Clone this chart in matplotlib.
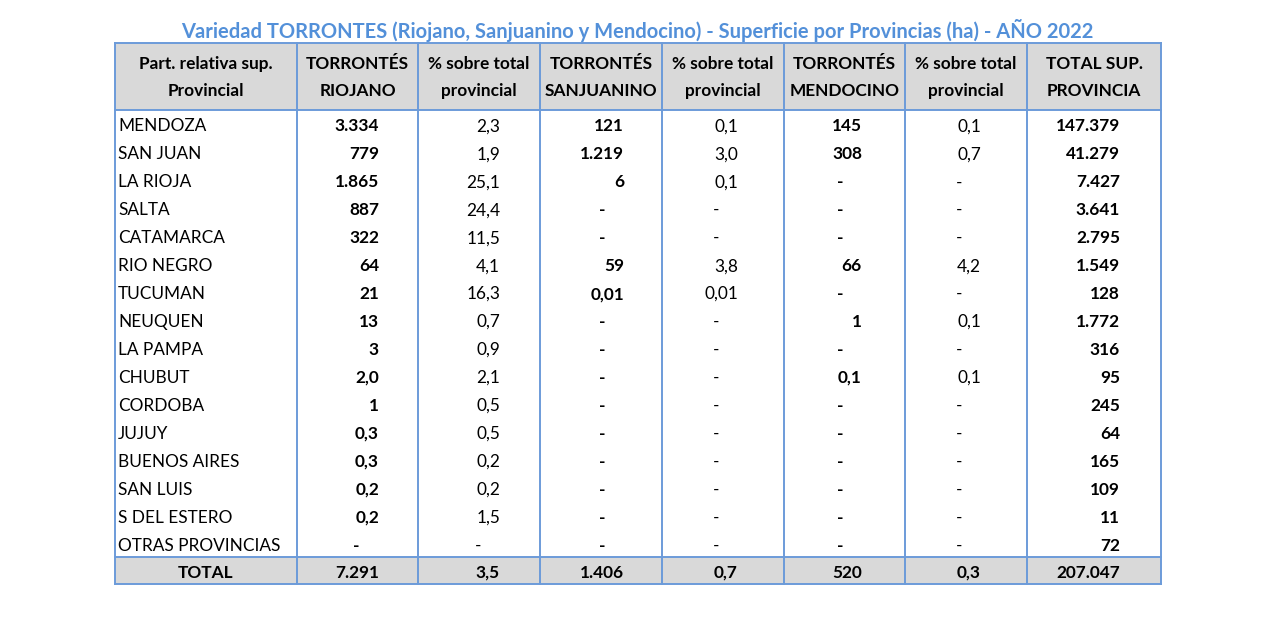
import matplotlib
matplotlib.use("Agg")
import matplotlib.pyplot as plt
from matplotlib.patches import Rectangle

plt.rcParams['font.family'] = ['Lato', 'DejaVu Sans']

title = "Variedad TORRONTES (Riojano, Sanjuanino y Mendocino) - Superficie por Provincias (ha) - AÑO 2022"

headers = ["Part. relativa sup.\nProvincial", "TORRONTÉS\nRIOJANO", "% sobre total\nprovincial",
           "TORRONTÉS\nSANJUANINO", "% sobre total\nprovincial", "TORRONTÉS\nMENDOCINO",
           "% sobre total\nprovincial", "TOTAL SUP.\nPROVINCIA"]

provinces = ["MENDOZA", "SAN JUAN", "LA RIOJA", "SALTA", "CATAMARCA", "RIO NEGRO", "TUCUMAN",
             "NEUQUEN", "LA PAMPA", "CHUBUT", "CORDOBA", "JUJUY", "BUENOS AIRES", "SAN LUIS",
             "S DEL ESTERO", "OTRAS PROVINCIAS"]
riojano = ["3.334", "779", "1.865", "887", "322", "64", "21", "13", "3", "2,0", "1", "0,3", "0,3",
           "0,2", "0,2", "-"]
pct_riojano = ["2,3", "1,9", "25,1", "24,4", "11,5", "4,1", "16,3", "0,7", "0,9", "2,1", "0,5",
               "0,5", "0,2", "0,2", "1,5", "-"]
sanjuanino = ["121", "1.219", "6", "-", "-", "59", "0,01", "-", "-", "-", "-", "-", "-", "-", "-", "-"]
pct_sanjuanino = ["0,1", "3,0", "0,1", "-", "-", "3,8", "0,01", "-", "-", "-", "-", "-", "-", "-",
                  "-", "-"]
mendocino = ["145", "308", "-", "-", "-", "66", "-", "1", "-", "0,1", "-", "-", "-", "-", "-", "-"]
pct_mendocino = ["0,1", "0,7", "-", "-", "-", "4,2", "-", "0,1", "-", "0,1", "-", "-", "-", "-",
                 "-", "-"]
total_sup = ["147.379", "41.279", "7.427", "3.641", "2.795", "1.549", "128", "1.772", "316", "95",
             "245", "64", "165", "109", "11", "72"]
totals = ["7.291", "3,5", "1.406", "0,7", "520", "0,3", "207.047"]

columns = [riojano, pct_riojano, sanjuanino, pct_sanjuanino, mendocino, pct_mendocino, total_sup]
bold_cols = [True, False, True, False, True, False, True]

# layout (pixels)
edges = [115, 297, 418, 540, 662, 784, 905, 1027, 1161]
text_right = [379, 500, 624, 738, 862, 981, 1120]
top, head_bot, total_top, bottom = 43, 110, 557, 584
row_h = (total_top - head_bot) / len(provinces)
blue = "#6C9BD9"
grey = "#D9D9D9"
fs = 12.4

fig = plt.figure(figsize=(12.8, 6.18), dpi=100)
ax = fig.add_axes([0, 0, 1, 1])
ax.set_xlim(0, 1280)
ax.set_ylim(618, 0)
ax.axis("off")

ax.text(637, 30, title, ha="center", va="center", fontsize=14.5, fontweight="bold", color="#5390D9")

ax.add_patch(Rectangle((edges[0], top), edges[-1] - edges[0], head_bot - top, color=grey, lw=0))
ax.add_patch(Rectangle((edges[0], total_top), edges[-1] - edges[0], bottom - total_top, color=grey, lw=0))

for x in edges:
    ax.plot([x, x], [top, bottom], color=blue, lw=1.4)
for y in [top, head_bot, total_top, bottom]:
    ax.plot([edges[0], edges[-1]], [y, y], color=blue, lw=1.4)

for i, h in enumerate(headers):
    xc = (edges[i] + edges[i + 1]) / 2
    ax.text(xc, (top + head_bot) / 2 + 1, h, ha="center", va="center", fontsize=fs,
            fontweight="bold", linespacing=1.85, color="black")

for r, name in enumerate(provinces):
    yc = head_bot + row_h * (r + 0.5) + 2.5
    ax.text(edges[0] + 3, yc, name, ha="left", va="center", fontsize=fs, color="black")
    for c, col in enumerate(columns):
        val = col[r]
        xr = text_right[c] - (19 if val == "-" else 0)
        ax.text(xr, yc, val, ha="right", va="center", fontsize=fs,
                fontweight="bold" if bold_cols[c] else "normal", color="black")

yc = (total_top + bottom) / 2 + 2
ax.text((edges[0] + edges[1]) / 2, yc, "TOTAL", ha="center", va="center", fontsize=fs,
        fontweight="bold", color="black")
for c, val in enumerate(totals):
    ax.text(text_right[c], yc, val, ha="right", va="center", fontsize=fs, fontweight="bold",
            color="black")

fig.savefig("out.png", dpi=100, facecolor="white")
